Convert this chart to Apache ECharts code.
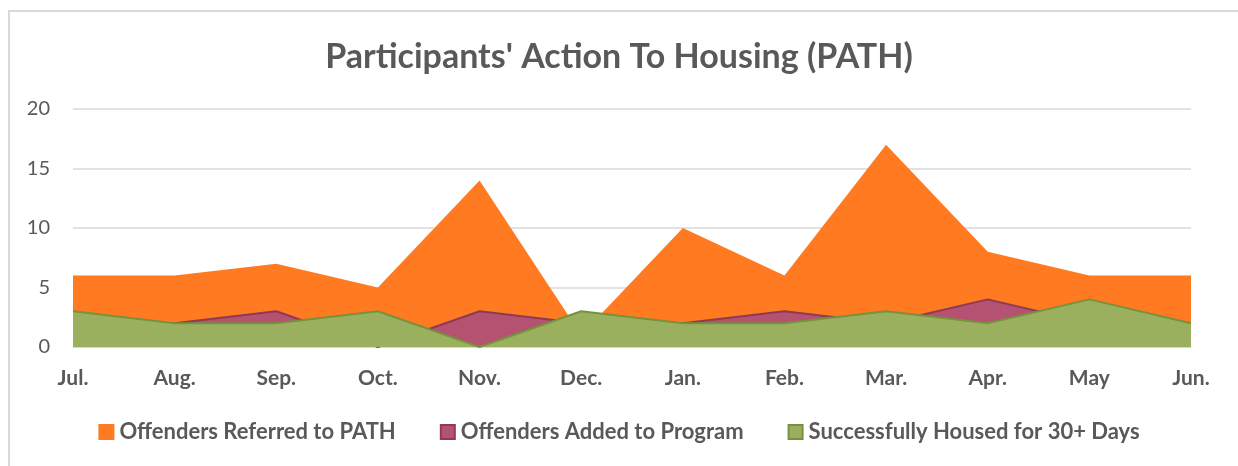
<!DOCTYPE html>
<html lang="en">
<head>
    <meta charset="UTF-8">
    <title>Participants' Action To Housing (PATH)</title>
    <script type="text/javascript" src="https://cdn.jsdelivr.net/npm/echarts@6/dist/echarts.min.js"></script>
    <style>
        html, body { margin: 0; padding: 0; background: #fff; }
    </style>
</head>
<body>
<div id="main" style="width: 1238px; height: 466px;"></div>
<script type="text/javascript">
    "use strict"
    var months = ['Jul.', 'Aug.', 'Sep.', 'Oct.', 'Nov.', 'Dec.', 'Jan.', 'Feb.', 'Mar.', 'Apr.', 'May', 'Jun.'];
    var referred = [6, 6, 7, 5, 14, 1, 10, 6, 17, 8, 6, 6];
    var added = [2, 2, 3, 0, 3, 2, 2, 3, 2, 4, 2, 1];
    var housed = [3, 2, 2, 3, 0, 3, 2, 2, 3, 2, 4, 2];

    var font = 'Lato';
    var textColor = '#595959';

    var myChart = echarts.init(document.getElementById('main'));

    // one filled area per series, later ones drawn on top
    function areaSeries(name, data, fill, border, z) {
        return {
            name: name,
            type: 'line',
            data: data,
            z: z,
            symbol: 'none',
            silent: true,
            lineStyle: { color: border || fill, width: border ? 2 : 0 },
            areaStyle: { color: fill, opacity: 1 },
            itemStyle: { color: fill, borderColor: border || fill, borderWidth: 1 }
        };
    }

    var option = {
        animation: false,
        textStyle: { fontFamily: font },
        title: {
            text: "Participants' Action To Housing (PATH)",
            left: 'center',
            top: 35,
            textStyle: { fontFamily: font, fontSize: 34, fontWeight: 'bold', color: textColor }
        },
        graphic: [{
            type: 'rect',
            shape: { x: 9, y: 11, width: 1400, height: 600 },
            style: { fill: 'none', stroke: '#D9D9D9', lineWidth: 2 },
            silent: true
        }],
        legend: {
            bottom: 18,
            left: 'center',
            itemWidth: 14,
            itemHeight: 14,
            itemGap: 44,
            icon: 'rect',
            textStyle: { fontFamily: font, fontSize: 22, fontWeight: 'bold', color: textColor, padding: [0, 0, 0, 1] }
        },
        grid: {
            left: 73,
            right: 47,
            top: 109,
            bottom: 119,
            containLabel: false
        },
        xAxis: {
            type: 'category',
            data: months,
            boundaryGap: false,
            axisLine: { lineStyle: { color: '#D9D9D9', width: 1 } },
            axisTick: { show: false },
            axisLabel: { fontFamily: font, fontSize: 21, fontWeight: 'bold', color: textColor, margin: 21 }
        },
        yAxis: {
            type: 'value',
            min: 0,
            max: 20,
            interval: 5,
            axisLine: { show: false },
            axisTick: { show: false },
            splitLine: { lineStyle: { color: '#D9D9D9', width: 1.5 } },
            axisLabel: { fontFamily: font, fontSize: 20, color: textColor, margin: 23 }
        },
        series: [
            areaSeries('Offenders Referred to PATH', referred, '#FF7A20', null, 2),
            areaSeries('Offenders Added to Program', added, '#B55171', '#8C3A55', 3),
            areaSeries('Successfully Housed for 30+ Days', housed, '#9BB05E', '#76923C', 4)
        ]
    };

    myChart.setOption(option);
</script>
</body>
</html>
